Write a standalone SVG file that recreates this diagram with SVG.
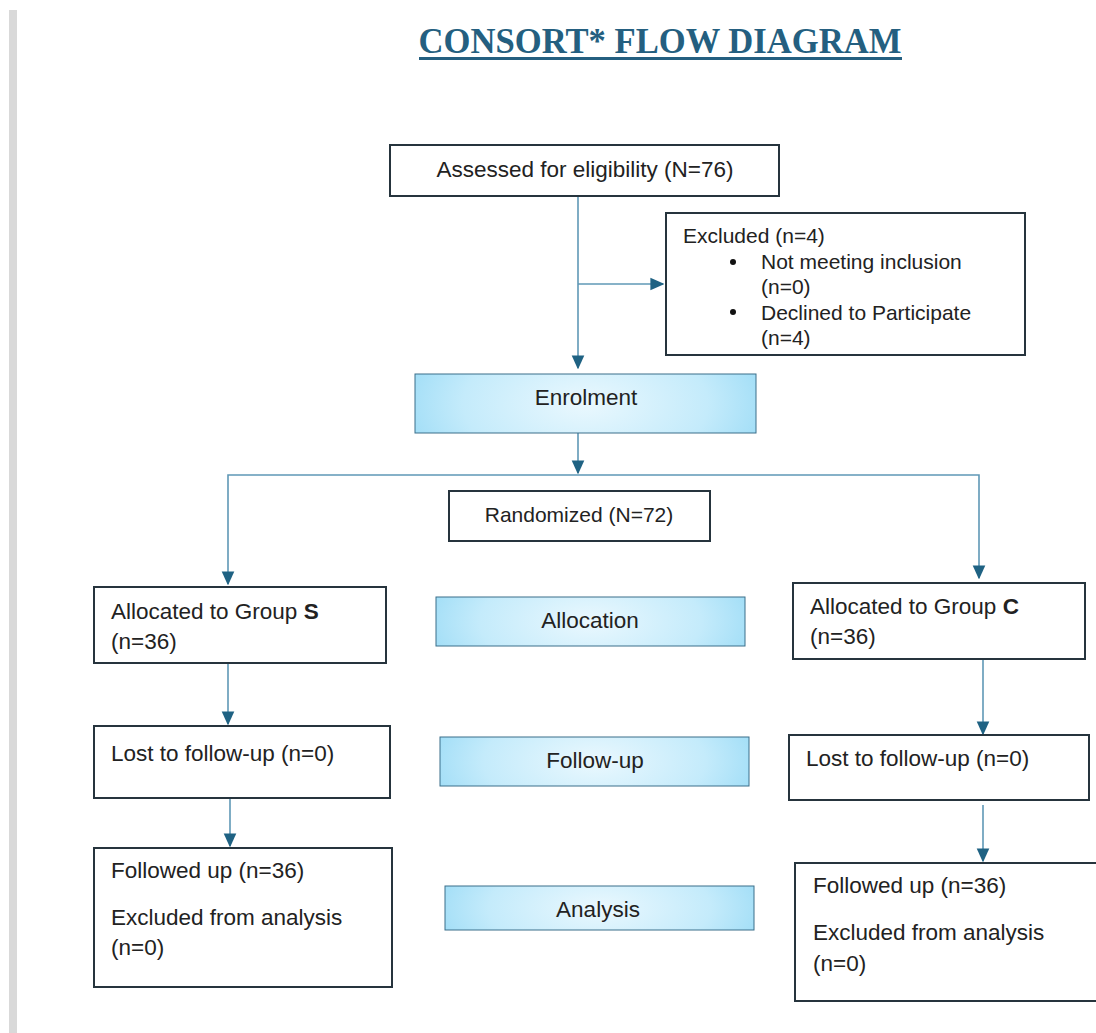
<svg xmlns="http://www.w3.org/2000/svg" width="1096" height="1033" viewBox="0 0 1096 1033">
<style>
.box{fill:#fff;stroke:#26343d;stroke-width:2}
.band{fill:url(#bg);stroke:#3a6f8a;stroke-width:1}
.t{font-family:"Liberation Sans",Arial,sans-serif;font-size:22.5px;fill:#222}
.s{font-size:21px}
.c{text-anchor:middle}
.ln{fill:none;stroke:#5f98b6;stroke-width:1.6}
</style>
<defs>
<radialGradient id="bg" cx="0.5" cy="0.5" r="0.6" gradientTransform="translate(0.5 0.5) scale(1 3) translate(-0.5 -0.5)">
<stop offset="0" stop-color="#eaf8fe"/>
<stop offset="0.6" stop-color="#c4ebfb"/>
<stop offset="1" stop-color="#95d9f5"/>
</radialGradient>
<marker id="a" viewBox="0 0 10 10" refX="9" refY="5" markerWidth="14" markerHeight="14" markerUnits="userSpaceOnUse" orient="auto">
<path d="M0,0.5 L10,5 L0,9.5 z" fill="#1f6283"/>
</marker>
</defs>
<rect x="0" y="0" width="1096" height="1033" fill="#fff"/>
<rect x="9" y="10" width="8" height="1023" fill="#d9d9d9"/>
<g id="title">
<text x="660" y="53" text-anchor="middle" font-family="Liberation Serif,'Times New Roman',serif" font-weight="bold" font-size="35" fill="#245f80" textLength="483" lengthAdjust="spacingAndGlyphs">CONSORT* FLOW DIAGRAM</text>
<rect x="419" y="57" width="483" height="3" fill="#245f80"/>
</g>
<g id="connectors">
<line class="ln" x1="578" y1="196" x2="578" y2="368" marker-end="url(#a)"/>
<line class="ln" x1="578" y1="284" x2="663" y2="284" marker-end="url(#a)"/>
<line class="ln" x1="578" y1="433" x2="578" y2="473" marker-end="url(#a)"/>
<polyline class="ln" points="578,475 228,475 228,584" marker-end="url(#a)"/>
<polyline class="ln" points="578,475 979,475 979,578" marker-end="url(#a)"/>
<line class="ln" x1="228" y1="663" x2="228" y2="724" marker-end="url(#a)"/>
<line class="ln" x1="983" y1="659" x2="983" y2="734" marker-end="url(#a)"/>
<line class="ln" x1="230" y1="798" x2="230" y2="846" marker-end="url(#a)"/>
<line class="ln" x1="983" y1="805" x2="983" y2="861" marker-end="url(#a)"/>
</g>
<g id="assessed">
<rect class="box" x="390" y="145" width="389" height="51"/>
<text class="t c" x="585" y="177">Assessed for eligibility (N=76)</text>
</g>
<g id="excluded">
<rect class="box" x="666" y="213" width="359" height="142"/>
<text class="t s" x="683" y="243">Excluded (n=4)</text>
<circle cx="733" cy="262" r="3" fill="#111"/>
<text class="t s" x="761" y="269">Not meeting inclusion</text>
<text class="t s" x="761" y="294">(n=0)</text>
<circle cx="733" cy="312" r="3" fill="#111"/>
<text class="t s" x="761" y="320">Declined to Participate</text>
<text class="t s" x="761" y="345">(n=4)</text>
</g>
<g id="enrolment">
<rect class="band" x="415" y="374" width="341" height="59"/>
<text class="t c" x="586" y="405">Enrolment</text>
</g>
<g id="randomized">
<rect class="box" x="449" y="491" width="261" height="50"/>
<text class="t s c" x="579" y="522">Randomized (N=72)</text>
</g>
<g id="allocS">
<rect class="box" x="94" y="587" width="292" height="76"/>
<text class="t" x="111" y="619">Allocated to Group <tspan font-weight="bold">S</tspan></text>
<text class="t" x="111" y="649">(n=36)</text>
</g>
<g id="allocation">
<rect class="band" x="436" y="597" width="309" height="49"/>
<text class="t c" x="590" y="628">Allocation</text>
</g>
<g id="allocC">
<rect class="box" x="793" y="583" width="292" height="76"/>
<text class="t" x="810" y="614">Allocated to Group <tspan font-weight="bold">C</tspan></text>
<text class="t" x="810" y="644">(n=36)</text>
</g>
<g id="lostS">
<rect class="box" x="94" y="726" width="296" height="72"/>
<text class="t" x="111" y="761">Lost to follow-up (n=0)</text>
</g>
<g id="followup">
<rect class="band" x="440" y="737" width="309" height="49"/>
<text class="t c" x="595" y="768">Follow-up</text>
</g>
<g id="lostC">
<rect class="box" x="789" y="735" width="300" height="65"/>
<text class="t" x="806" y="766">Lost to follow-up (n=0)</text>
</g>
<g id="followedS">
<rect class="box" x="94" y="848" width="298" height="139"/>
<text class="t" x="111" y="878">Followed up (n=36)</text>
<text class="t" x="111" y="925">Excluded from analysis</text>
<text class="t" x="111" y="955">(n=0)</text>
</g>
<g id="analysis">
<rect class="band" x="445" y="886" width="309" height="44"/>
<text class="t c" x="598" y="917">Analysis</text>
</g>
<g id="followedC">
<rect class="box" x="795" y="863" width="310" height="138"/>
<text class="t" x="813" y="893">Followed up (n=36)</text>
<text class="t" x="813" y="940">Excluded from analysis</text>
<text class="t" x="813" y="971">(n=0)</text>
</g>
</svg>
